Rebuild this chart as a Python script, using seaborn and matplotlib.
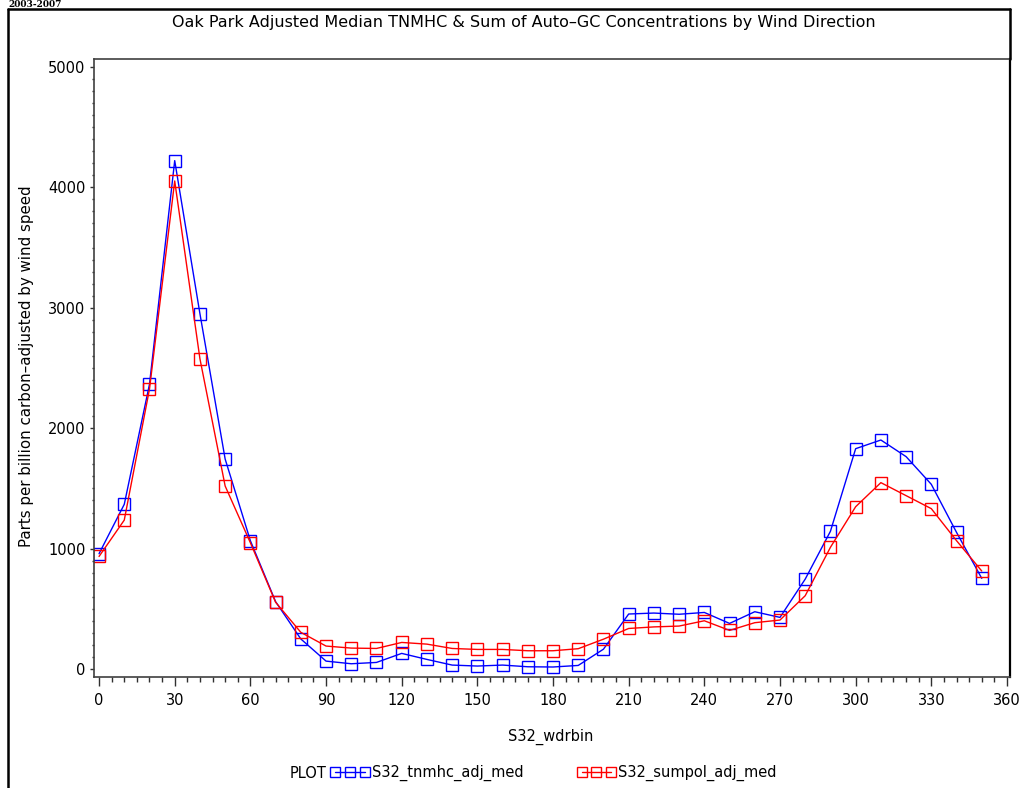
import matplotlib
matplotlib.use("Agg")
import matplotlib.pyplot as plt
from matplotlib.lines import Line2D
from matplotlib.ticker import MultipleLocator
import seaborn as sns
import pandas as pd

# ---- data ----
wind_dir = [0, 10, 20, 30, 40, 50, 60, 70, 80, 90, 100, 110, 120, 130, 140, 150,
            160, 170, 180, 190, 200, 210, 220, 230, 240, 250, 260, 270, 280, 290,
            300, 310, 320, 330, 340, 350]
tnmhc = [958, 1368, 2365, 4222, 2951, 1744, 1066, 560, 250, 66, 44, 55, 130, 80,
         33, 25, 33, 19, 17, 30, 165, 457, 465, 455, 470, 379, 476, 429, 747,
         1144, 1830, 1902, 1764, 1534, 1135, 753]
sumpol = [935, 1237, 2325, 4053, 2577, 1520, 1049, 555, 305, 191, 174, 171, 221,
          207, 171, 163, 163, 152, 152, 169, 248, 337, 350, 357, 401, 321, 385,
          407, 609, 1011, 1348, 1548, 1440, 1332, 1066, 814]
series_names = ["S32_tnmhc_adj_med", "S32_sumpol_adj_med"]
x_ticks = list(range(0, 361, 30))
y_ticks = [0, 1000, 2000, 3000, 4000, 5000]

BLUE = "#0000ff"
RED = "#ff0000"

df = pd.DataFrame({
    "S32_wdrbin": wind_dir * 2,
    "value": tnmhc + sumpol,
    "series": [series_names[0]] * len(wind_dir) + [series_names[1]] * len(wind_dir),
})

sns.set_style("white")
plt.rcParams["font.family"] = ["DejaVu Sans"]
plt.rcParams["text.color"] = "black"
plt.rcParams["xtick.color"] = "black"
plt.rcParams["ytick.color"] = "black"
plt.rcParams["xtick.labelcolor"] = "black"
plt.rcParams["ytick.labelcolor"] = "black"

W, H = 1021, 788
fig = plt.figure(figsize=(W / 100, H / 100), dpi=100)
ax = fig.add_axes([94 / W, 1 - 677 / H, (1010 - 94) / W, (677 - 59) / H])

for name, col in zip(series_names, [BLUE, RED]):
    sns.lineplot(data=df[df["series"] == name], x="S32_wdrbin", y="value",
                 ax=ax, color=col, marker="s", markersize=8,
                 markerfacecolor="none", markeredgecolor=col,
                 markeredgewidth=1.0, linewidth=1.0, legend=False)

ax.set_xlim(-2, 361.2)
ax.set_ylim(-66, 5066)
ax.set_xticks(x_ticks)
ax.set_yticks(y_ticks)
ax.xaxis.set_minor_locator(MultipleLocator(5))
ax.yaxis.set_minor_locator(MultipleLocator(100))
ax.tick_params(axis="x", which="major", direction="out", length=6.5, width=1,
               color="#303030", labelcolor="black", labelsize=10.5, pad=5, bottom=True)
ax.tick_params(axis="x", which="minor", direction="out", length=3.5, width=1,
               color="#303030", bottom=True)
ax.tick_params(axis="y", which="major", direction="out", length=3, width=1,
               color="#303030", labelcolor="black", labelsize=10.5, pad=3, left=True)
ax.tick_params(axis="y", which="minor", direction="out", length=1.5, width=1,
               color="#303030", left=True)
for s in ax.spines.values():
    s.set_visible(True)
    s.set_color("#404040")
    s.set_linewidth(1.2)
ax.spines["right"].set_color("black")
ax.spines["right"].set_linewidth(1.6)

ax.set_xlabel("")
ax.set_ylabel("")
fig.text(551 / W, 1 - 737 / H, "S32_wdrbin", ha="center", va="center", fontsize=10.5)
fig.text(27 / W, 1 - 366 / H, "Parts per billion carbon–adjusted by wind speed",
         ha="center", va="center", rotation=90, fontsize=10.8)
fig.text(524 / W, 1 - 22 / H,
         "Oak Park Adjusted Median TNMHC & Sum of Auto–GC Concentrations by Wind Direction",
         ha="center", va="center", fontsize=11.5)

# legend
fig.text(290 / W, 1 - 773 / H, "PLOT", ha="left", va="center", fontsize=10.5)
handles = [Line2D([], [], color=c, marker="s", markersize=7, markerfacecolor="none",
                  markeredgecolor=c, markeredgewidth=1.0, linewidth=1.0)
           for c in [BLUE, RED]]
fig.legend(handles, series_names, loc="center left",
           bbox_to_anchor=(331 / W, 1 - 773 / H), ncol=2, frameon=False,
           numpoints=3, handlelength=2.6, handletextpad=0.2, columnspacing=3.7,
           fontsize=10.5, borderpad=0, borderaxespad=0)

# page frame
frame_kw = dict(color="black", linewidth=1.8, transform=fig.transFigure)
fig.add_artist(Line2D([8 / W, 8 / W], [0, 1 - 9 / H], **frame_kw))
fig.add_artist(Line2D([8 / W, 1010 / W], [1 - 9 / H, 1 - 9 / H], **frame_kw))
fig.add_artist(Line2D([1010 / W, 1010 / W], [1 - 9 / H, 1 - 59 / H], **frame_kw))
fig.text(8 / W, 1 - 7 / H, "2003-2007", ha="left", va="baseline", fontsize=6.5,
         family="DejaVu Serif", weight="bold")

fig.savefig("out.png", dpi=100)
